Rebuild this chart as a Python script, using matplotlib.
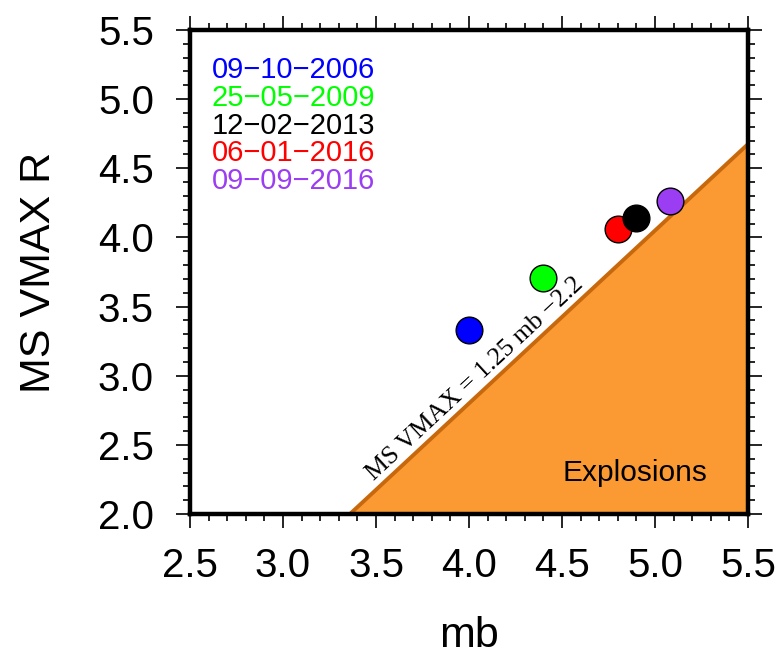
import numpy as np
import matplotlib
matplotlib.use("Agg")
import matplotlib.pyplot as plt
from matplotlib.ticker import MultipleLocator

plt.rcParams['font.family'] = ['Liberation Sans', 'DejaVu Sans']

# event data
dates = ["09\u221210\u22122006", "25\u221205\u22122009", "12\u221202\u22122013",
         "06\u221201\u22122016", "09\u221209\u22122016"]
mb = [4.00, 4.40, 4.80, 4.90, 5.08]
ms_vmax = [3.33, 3.71, 4.06, 4.14, 4.26]
colors = ["#0000ff", "#00ff00", "#ff0000", "#000000", "#9b3df2"]
legend_colors = ["#0000ff", "#00ff00", "#000000", "#ff0000", "#9b3df2"]

# discriminant line MS = 1.25 mb - 2.2
slope = 1.25
intercept = -2.2
xlim = (2.5, 5.5)
ylim = (2.0, 5.5)

fig = plt.figure(figsize=(7.8, 6.61), dpi=100)
ax = fig.add_axes([0.2436, 0.2224, 0.7154, 0.7322])

x0 = (ylim[0] - intercept) / slope
x1 = xlim[1]
y1 = slope * x1 + intercept
ax.fill([x0, x1, x1], [ylim[0], y1, ylim[0]], color="#fb9a32", zorder=1, lw=0)
ax.plot([x0, x1], [ylim[0], y1], color="#c8680c", lw=2.8, zorder=2,
        solid_capstyle='butt')

# draw points so black sits above red
for i in range(len(mb)):
    ax.scatter(mb[i], ms_vmax[i], s=370, color=colors[i], edgecolor="black",
               linewidth=1.0, zorder=4 + i)

ax.text(4.07, 2.92, "MS VMAX = 1.25 mb \u22122.2", family=["Liberation Serif"],
        fontsize=18.5, rotation=np.degrees(np.arctan(slope)),
        transform_rotates_text=True, rotation_mode='anchor',
        ha='center', va='bottom', zorder=3)

ax.text(4.89, 2.30, "Explosions", fontsize=21.5, ha='center', va='center', zorder=3)

for k, (d, c) in enumerate(zip(dates, legend_colors)):
    ax.text(0.039, 0.917 - k * 0.0572, d, color=c, fontsize=21,
            transform=ax.transAxes, ha='left', va='center')

ax.set_xlim(*xlim)
ax.set_ylim(*ylim)
ax.xaxis.set_major_locator(MultipleLocator(0.5))
ax.xaxis.set_minor_locator(MultipleLocator(0.1))
ax.yaxis.set_major_locator(MultipleLocator(0.5))
ax.yaxis.set_minor_locator(MultipleLocator(0.1))
ax.xaxis.set_major_formatter(matplotlib.ticker.FormatStrFormatter('%.1f'))
ax.yaxis.set_major_formatter(matplotlib.ticker.FormatStrFormatter('%.1f'))

ax.tick_params(which='both', direction='out', top=True, right=True,
               labeltop=False, labelright=False, width=1.2)
ax.tick_params(which='major', length=10, labelsize=29)
ax.tick_params(which='minor', length=5)
ax.tick_params(axis='x', which='major', pad=14)
ax.tick_params(axis='y', which='major', pad=16)

for sp in ax.spines.values():
    sp.set_linewidth(3.2)
    sp.set_zorder(2.5)

ax.set_xlabel("mb", fontsize=31, labelpad=22)
ax.set_ylabel("MS VMAX R", fontsize=31, labelpad=28)

fig.savefig("out.png", dpi=100)
